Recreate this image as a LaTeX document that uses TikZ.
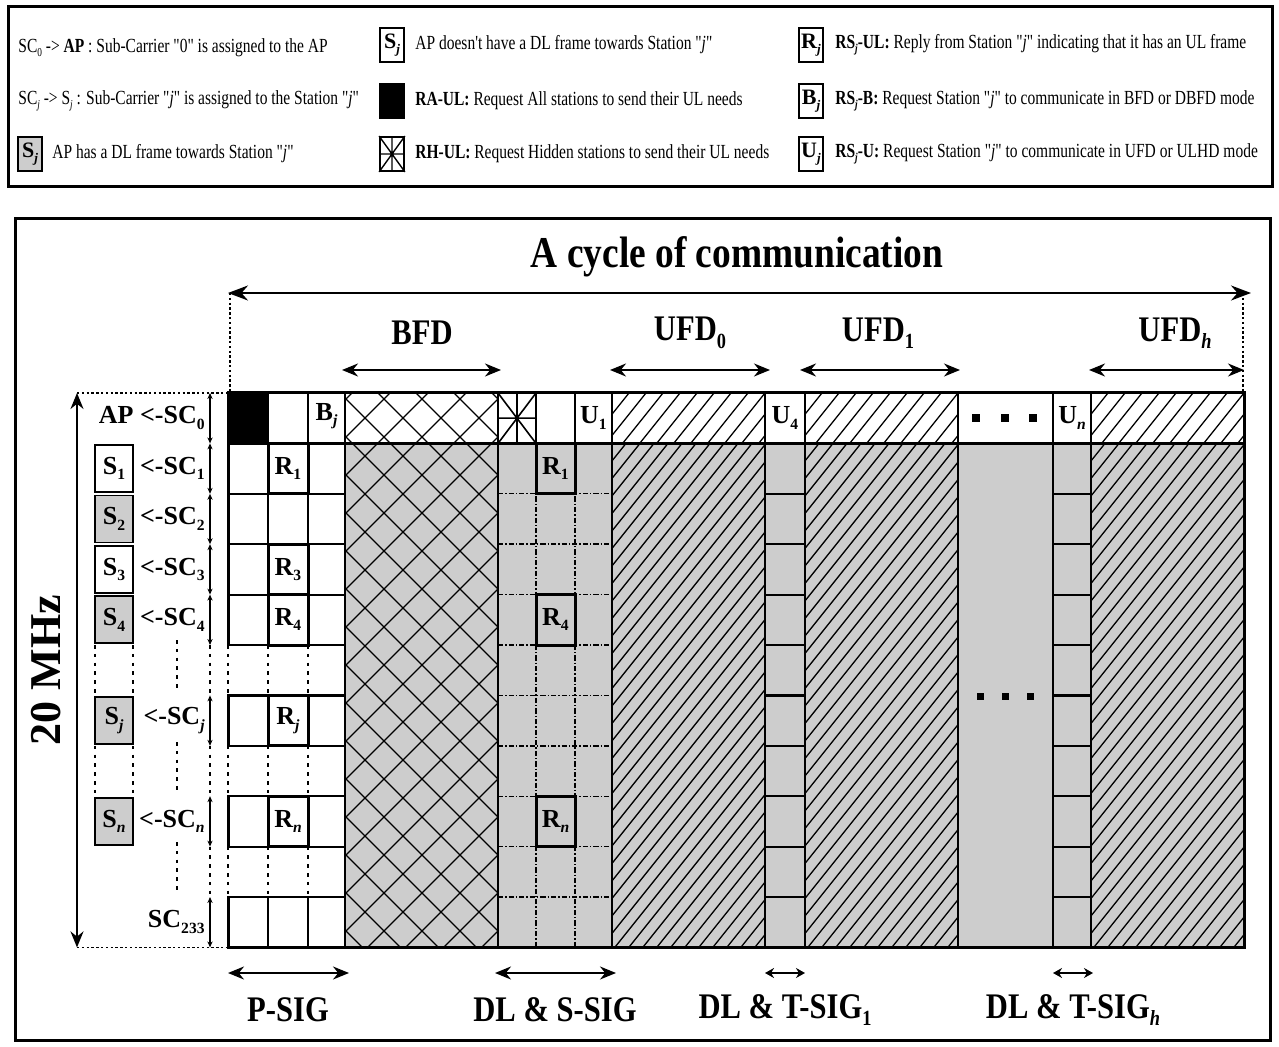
\documentclass[tikz,border=0pt]{standalone}
\usepackage{fontspec}
\setmainfont{Liberation Serif}
\newfontfamily\legfont[FakeStretch=0.775]{Liberation Serif}
\newfontfamily\lblfont[FakeStretch=0.85]{Liberation Serif}
\usetikzlibrary{arrows.meta}
\definecolor{cellgray}{RGB}{205,205,205}
\newcommand\sbs[1]{\raisebox{-0.45ex}{\scalebox{0.6}{#1}}}
\def\colA{228}\def\colB{268}\def\colC{308}\def\colD{345}\def\colE{498}\def\colF{536}\def\colG{575}
\def\colH{612}\def\colI{765}\def\colJ{805}\def\colK{958}\def\colL{1053}\def\colM{1091}\def\colN{1244}
\def\rowA{393}\def\rowB{443.4}\def\rowL{947.4}
% #1 xl, #2 xr, #3 ytop, #4 ybottom, #5 spacing
\newcommand\diaghatch[5]{%
  \begin{scope}
    \clip (#1,#3) rectangle (#2,#4);
    \pgfmathsetmacro\hoff{(#4-#3)*0.8}
    \pgfmathtruncatemacro\hnum{(#2-#1+\hoff)/#5+1}
    \foreach \i in {0,...,\hnum}{%
      \pgfmathsetmacro\hx{#1-\hoff+#5*\i}
      \draw[hatchline] (\hx,#4) -- ++(\hoff,{-(#4-#3)});
    }
  \end{scope}}
\begin{document}
\begin{tikzpicture}[x=0.5pt,y=-0.5pt,
  thk/.style={line width=1.5pt},
  med/.style={line width=1.1pt},
  hatchline/.style={line width=0.65pt},
  dashdot/.style={line width=0.7pt,dash pattern=on 2.6pt off 1pt on 0.7pt off 1pt},
  dotln/.style={line width=1.4pt,dash pattern=on 1.8pt off 2.6pt},
  finedot/.style={line width=0.8pt,dash pattern=on 1.2pt off 1.2pt},
  dimarrow/.style={line width=1pt,{Stealth[length=8pt,width=6.5pt]}-{Stealth[length=8pt,width=6.5pt]}},
  shortarrow/.style={line width=1pt,{Stealth[length=4.5pt,width=5pt]}-{Stealth[length=4.5pt,width=5pt]}},
  rowarrow/.style={line width=0.6pt,{Stealth[length=3pt,width=2.6pt]}-{Stealth[length=3pt,width=2.6pt]}},
  lbl/.style={font=\lblfont\fontsize{18}{20}\selectfont\bfseries,inner sep=0pt},
  celltxt/.style={font=\fontsize{13}{14}\selectfont\bfseries,inner sep=0pt},
  leg/.style={font=\legfont\fontsize{10}{12}\selectfont,anchor=west,inner sep=0pt},
  legbox/.style={draw,line width=0.9pt,minimum width=12pt,minimum height=17pt,inner sep=0pt,font=\fontsize{11}{12}\selectfont\bfseries},
  sbox/.style={draw,line width=0.9pt,minimum width=19pt,minimum height=23.5pt,inner sep=0pt,font=\fontsize{13}{14}\selectfont\bfseries}]
\useasboundingbox (0,0) rectangle (1279,1047);
\fill[white] (0,0) rectangle (1279,1047);

% ---------------- legend ----------------
\draw[thk] (8,7) rectangle (1272,187);
\node[leg] (lgA) at (18,48) {SC\sbs{0} -> \textbf{AP} : Sub-Carrier "0" is assigned to the AP};
\node[leg] (lgB) at (18,101) {SC\sbs{\itshape j} -> S\sbs{\itshape j} : Sub-Carrier "\textit{j}" is assigned to the Station "\textit{j}"};
\node[legbox,fill=cellgray] (lgCi) at (30,154) {S\sbs{\itshape j}};
\node[leg] (lgC) at (52,154) {AP has a DL frame towards Station "\textit{j}"};
\node[legbox] (lgDi) at (392,45) {S\sbs{\itshape j}};
\node[leg] (lgD) at (415,45) {AP doesn't have a DL frame towards Station "\textit{j}"};
\node[legbox,fill=black] (lgEi) at (392,101) {};
\node[leg] (lgE) at (415,101) {\textbf{RA-UL:} Request All stations to send their UL needs};
\node[legbox] (lgFi) at (392,154) {};
\draw[line width=0.7pt] (lgFi.north west) -- (lgFi.south east) (lgFi.north east) -- (lgFi.south west)
  (lgFi.north) -- (lgFi.south) (lgFi.west) -- (lgFi.east);
\node[leg] (lgF) at (415,154) {\textbf{RH-UL:} Request Hidden stations to send their UL needs};
\node[legbox] (lgGi) at (811,45) {R\sbs{\itshape j}};
\node[leg] (lgG) at (835,45) {\textbf{RS\sbs{\itshape j}-UL:} Reply from Station "\textit{j}" indicating that it has an UL frame};
\node[legbox] (lgHi) at (811,101) {B\sbs{\itshape j}};
\node[leg] (lgH) at (835,101) {\textbf{RS\sbs{\itshape j}-B:} Request Station "\textit{j}" to communicate in BFD or DBFD mode};
\node[legbox] (lgIi) at (811,154) {U\sbs{\itshape j}};
\node[leg] (lgI) at (835,154) {\textbf{RS\sbs{\itshape j}-U:} Request Station "\textit{j}" to communicate in UFD or ULHD mode};

% ---------------- main frame ----------------
\draw[thk] (15,219) rectangle (1270,1040);
\node[font=\lblfont\fontsize{22}{24}\selectfont\bfseries,inner sep=0pt] (title) at (737,257) {A cycle of communication};
\coordinate (cycL) at (228,293);
\coordinate (cycR) at (1251,293);
\draw[line width=1.1pt,{Stealth[length=10pt,width=7.5pt]}-{Stealth[length=10pt,width=7.5pt]}] (cycL) -- (cycR);
\coordinate (cycLd) at (230,\rowA);
\coordinate (cycRd) at (1243,\rowA);
\draw[finedot] (230,293) -- (cycLd);
\draw[finedot] (1243,293) -- (cycRd);

% period labels
\node[lbl] (bfd) at (422,333) {BFD};
\coordinate (bfdL) at (342,370); \coordinate (bfdR) at (501,370);
\draw[dimarrow] (bfdL) -- (bfdR);
\node[lbl] (ufd0) at (690,333) {UFD\sbs{0}};
\coordinate (ufdaL) at (610,370); \coordinate (ufdaR) at (770,370);
\draw[dimarrow] (ufdaL) -- (ufdaR);
\node[lbl] (ufd1) at (878,333) {UFD\sbs{1}};
\coordinate (ufdbL) at (800,370); \coordinate (ufdbR) at (960,370);
\draw[dimarrow] (ufdbL) -- (ufdbR);
\node[lbl] (ufdh) at (1175,333) {UFD\sbs{\itshape h}};
\coordinate (ufdcL) at (1089,370); \coordinate (ufdcR) at (1244,370);
\draw[dimarrow] (ufdcL) -- (ufdcR);

% ---------------- grid fills ----------------
\fill[white] (\colA,\rowA) rectangle (\colN,\rowB);
\fill[cellgray] (\colD,\rowB) rectangle (\colN,\rowL);
\fill[white] (\colA,\rowB) rectangle (\colD,\rowL);
\fill[black] (\colA,\rowA) rectangle (\colB,\rowB);

% cross hatch (BFD)
\begin{scope}
  \clip (\colD,\rowA) rectangle (\colE,\rowL);
  \foreach \m in {-3,...,19}{%
    \pgfmathsetmacro\hcc{783+38*\m}
    \draw[hatchline] ({\hcc-393},393) -- ({\hcc-947.4},947.4);}
  \foreach \m in {-6,...,16}{%
    \pgfmathsetmacro\hdd{53+38*\m}
    \draw[hatchline] ({393-\hdd},393) -- ({947.4-\hdd},947.4);}
\end{scope}

% diagonal hatch (UFD periods)
\diaghatch{\colH}{\colI}{\rowA}{\rowB}{17}
\diaghatch{\colJ}{\colK}{\rowA}{\rowB}{17}
\diaghatch{\colM}{\colN}{\rowA}{\rowB}{17}
\diaghatch{\colH}{\colI}{\rowB}{\rowL}{14}
\diaghatch{\colJ}{\colK}{\rowB}{\rowL}{14}
\diaghatch{\colM}{\colN}{\rowB}{\rowL}{14}

% ---------------- DL & S-SIG body ----------------
\foreach \k in {2,...,10}{%
  \pgfmathsetmacro\yy{393+50.4*\k}
  \draw[dashdot] (\colE,\yy) -- (\colH,\yy);}
\foreach \c in {\colF,\colG} \draw[dashdot] (\c,\rowB) -- (\c,\rowL);
\foreach \k/\t in {1/1,4/4,8/{\itshape n}}{%
  \pgfmathsetmacro\yt{393+50.4*\k}
  \pgfmathsetmacro\yb{\yt+50.4}
  \pgfmathsetmacro\yc{\yt+25.2}
  \filldraw[fill=cellgray,thk] (\colF,\yt) rectangle (\colG,\yb);
  \node[celltxt] (sr\k) at (555.5,\yc) {R\sbs{\t}};}

% ---------------- T-SIG columns ----------------
\foreach \k in {2,...,10}{%
  \pgfmathsetmacro\yy{393+50.4*\k}
  \draw[med] (\colI,\yy) -- (\colJ,\yy);
  \draw[med] (\colL,\yy) -- (\colM,\yy);}

% ---------------- P-SIG body ----------------
\foreach \k in {1,2,3,4,6,8,10}{%
  \pgfmathsetmacro\yt{393+50.4*\k}
  \pgfmathsetmacro\yb{\yt+50.4}
  \draw[med] (\colA,\yt) rectangle (\colB,\yb) (\colB,\yt) rectangle (\colC,\yb) (\colC,\yt) rectangle (\colD,\yb);
  \draw[thk] (\colA,\yt) -- (\colA,\yb);}
\foreach \k in {5,7,9}{%
  \pgfmathsetmacro\yt{393+50.4*\k}
  \pgfmathsetmacro\yb{\yt+50.4}
  \foreach \c in {\colA,\colB,\colC} \draw[dotln] (\c,\yt) -- (\c,\yb);}
\foreach \k/\t in {1/1,3/3,4/4,6/{\itshape j},8/{\itshape n}}{%
  \pgfmathsetmacro\yt{393+50.4*\k}
  \pgfmathsetmacro\yb{\yt+50.4}
  \pgfmathsetmacro\yc{\yt+25.2}
  \draw[thk] (\colB,\yt) rectangle (\colC,\yb);
  \node[celltxt] (pr\k) at (288,\yc) {R\sbs{\t}};}

% ---------------- grid lines ----------------
\foreach \c in {\colD,\colE,\colH,\colI,\colJ,\colK,\colL,\colM}
  \draw[med] (\c,\rowA) -- (\c,\rowL);
\foreach \c in {\colB,\colC,\colF,\colG}
  \draw[med] (\c,\rowA) -- (\c,\rowB);
\draw[thk] (\colA,\rowB) -- (\colN,\rowB);
\draw[thk] (\colA,645) -- (\colA,\rowA) -- (\colN,\rowA) -- (\colN,\rowL) -- (\colA,\rowL);

% star cell (RH-UL)
\draw[line width=0.8pt] (\colE,\rowA) -- (\colF,\rowB) (\colF,\rowA) -- (\colE,\rowB)
  (517,\rowA) -- (517,\rowB) (\colE,418.2) -- (\colF,418.2);

% top row labels
\node[celltxt] (bj) at (326.5,416) {B\sbs{\itshape j}};
\node[celltxt] (u1) at (593.5,418) {U\sbs{1}};
\node[celltxt] (u4) at (785,418) {U\sbs{4}};
\node[celltxt] (un) at (1072,418) {U\sbs{\itshape n}};

% dots
\foreach \x in {976,1005,1033} \fill (\x-4,414) rectangle ++(8,8);
\foreach \x in {980,1005,1030} \fill (\x-3.5,693) rectangle ++(7,7);

% ---------------- left side ----------------
\node[celltxt,anchor=east] (ap) at (205,418) {AP <-SC\sbs{0}};
\foreach \k/\t/\f in {1/1/white,2/2/cellgray,3/3/white,4/4/cellgray,6/{\itshape j}/cellgray,8/{\itshape n}/cellgray}{%
  \pgfmathsetmacro\yc{393+50.4*\k+25.2}
  \node[sbox,fill=\f] (st\k) at (114,\yc) {S\sbs{\t}};
  \node[celltxt,anchor=east] (sc\k) at (205,\yc) {<-SC\sbs{\t}};}
\node[celltxt,anchor=east] (sc10) at (205,922) {SC\sbs{233}};

\foreach \k in {0,1,2,3,4,6,8,10}{%
  \pgfmathsetmacro\yt{393+50.4*\k}
  \pgfmathsetmacro\yb{\yt+50.4}
  \coordinate (ra\k) at (210,\yt);
  \coordinate (rb\k) at (210,\yb);
  \draw[rowarrow] (ra\k) -- (rb\k);}
\foreach \k in {5,7,9}{%
  \pgfmathsetmacro\yt{393+50.4*\k}
  \pgfmathsetmacro\yb{\yt+50.4}
  \draw[dotln] (210,\yt) -- (210,\yb);}
\foreach \k in {5,7}{%
  \pgfmathsetmacro\yt{393+50.4*\k}
  \pgfmathsetmacro\yb{\yt+50.4}
  \draw[dotln] (95,\yt) -- (95,\yb);
  \draw[dotln] (133,\yt) -- (133,\yb);}
\draw[dotln] (177,640) -- (177,690);
\draw[dotln] (177,742) -- (177,793);
\draw[dotln] (177,842) -- (177,893);

% bandwidth arrow
\coordinate (mhzT) at (77,\rowA);
\coordinate (mhzB) at (77,\rowL);
\draw[dimarrow] (mhzT) -- (mhzB);
\draw[finedot] (mhzT) -- (\colA,\rowA);
\draw[finedot] (mhzB) -- (\colA,\rowL);
\node[font=\fontsize{22}{24}\selectfont\bfseries,inner sep=0pt,rotate=90] (mhz) at (46,670) {20 MHz};

% ---------------- bottom labels ----------------
\coordinate (psL) at (228,973); \coordinate (psR) at (349,973);
\draw[dimarrow] (psL) -- (psR);
\node[lbl] (psig) at (288,1010) {P-SIG};
\coordinate (ssL) at (495,973); \coordinate (ssR) at (616,973);
\draw[dimarrow] (ssL) -- (ssR);
\node[lbl] (ssig) at (555,1010) {DL \& S-SIG};
\coordinate (taL) at (765,973); \coordinate (taR) at (805,973);
\draw[shortarrow] (taL) -- (taR);
\node[lbl] (tsig1) at (785,1010) {DL \& T-SIG\sbs{1}};
\coordinate (tbL) at (1053,973); \coordinate (tbR) at (1093,973);
\draw[shortarrow] (tbL) -- (tbR);
\node[lbl] (tsigh) at (1073,1010) {DL \& T-SIG\sbs{\itshape h}};
\end{tikzpicture}
\end{document}
